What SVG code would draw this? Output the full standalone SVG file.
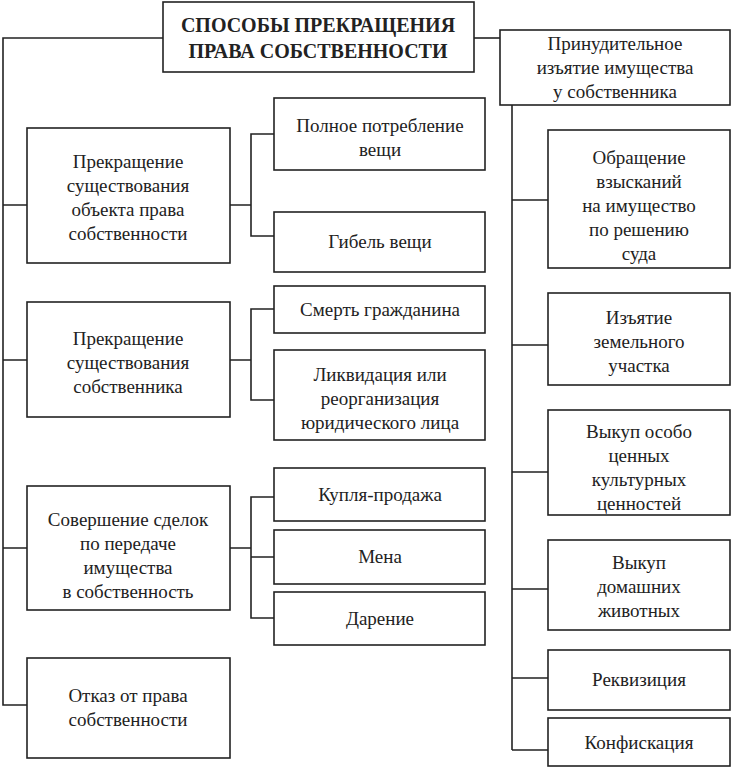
<svg xmlns="http://www.w3.org/2000/svg" width="732" height="770" viewBox="0 0 732 770">
<style>
rect{fill:#fff;stroke:#222;stroke-width:1.6}
text{font-family:'Liberation Serif','DejaVu Serif','Times New Roman',serif;font-size:19px;fill:#222;text-anchor:middle}
.t{font-weight:bold;font-size:20px}
#connectors path{fill:none;stroke:#222;stroke-width:1.6}
</style>
<rect width="732" height="770" style="fill:#fff;stroke:none"/>
<g id="connectors">
<path d="M163 38H3V705H27"/>
<path d="M3 205H27M3 360H27M3 548H27"/>
<path d="M474 38H500"/>
<path d="M512 105V750"/>
<path d="M512 200H548M512 345H548M512 472H548M512 589H548M512 678H548M512 750H548"/>
<path d="M230 205H251M274 134H251V236H274"/>
<path d="M230 360H251M274 309H251V400H274"/>
<path d="M230 548H251M274 497H251V618H274M251 557H274"/>
</g>
<g id="title"><rect x="163" y="2" width="311" height="70"/><text class="t" x="318" y="32">СПОСОБЫ ПРЕКРАЩЕНИЯ</text><text class="t" x="318" y="58">ПРАВА СОБСТВЕННОСТИ</text></g>
<g id="l1"><rect x="27" y="128" width="203" height="135"/><text x="128" y="168">Прекращение</text><text x="128" y="192">существования</text><text x="128" y="216">объекта права</text><text x="128" y="240">собственности</text></g>
<g id="l2"><rect x="27" y="302" width="203" height="115"/><text x="128" y="345">Прекращение</text><text x="128" y="369">существования</text><text x="128" y="393">собственника</text></g>
<g id="l3"><rect x="27" y="486" width="203" height="124"/><text x="128" y="526">Совершение сделок</text><text x="128" y="550">по передаче</text><text x="128" y="574">имущества</text><text x="128" y="598">в собственность</text></g>
<g id="l4"><rect x="27" y="658" width="203" height="100"/><text x="128" y="702">Отказ от права</text><text x="128" y="726">собственности</text></g>
<g id="m1"><rect x="274" y="98" width="211" height="72"/><text x="380" y="132">Полное потребление</text><text x="380" y="156">вещи</text></g>
<g id="m2"><rect x="274" y="212" width="211" height="60"/><text x="380" y="248">Гибель вещи</text></g>
<g id="m3"><rect x="274" y="286" width="211" height="47"/><text x="380" y="316">Смерть гражданина</text></g>
<g id="m4"><rect x="274" y="350" width="211" height="90"/><text x="380" y="381">Ликвидация или</text><text x="380" y="405">реорганизация</text><text x="380" y="429">юридического лица</text></g>
<g id="m5"><rect x="274" y="468" width="211" height="53"/><text x="380" y="501">Купля-продажа</text></g>
<g id="m6"><rect x="274" y="530" width="211" height="54"/><text x="380" y="563">Мена</text></g>
<g id="m7"><rect x="274" y="592" width="211" height="53"/><text x="380" y="625">Дарение</text></g>
<g id="r0"><rect x="500" y="30" width="230" height="75"/><text x="615" y="50">Принудительное</text><text x="615" y="74">изъятие имущества</text><text x="615" y="98">у собственника</text></g>
<g id="r1"><rect x="548" y="130" width="182" height="138"/><text x="639" y="164">Обращение</text><text x="639" y="188">взысканий</text><text x="639" y="212">на имущество</text><text x="639" y="236">по решению</text><text x="639" y="260">суда</text></g>
<g id="r2"><rect x="548" y="293" width="182" height="92"/><text x="639" y="324">Изъятие</text><text x="639" y="348">земельного</text><text x="639" y="372">участка</text></g>
<g id="r3"><rect x="548" y="410" width="182" height="105"/><text x="639" y="438">Выкуп особо</text><text x="639" y="462">ценных</text><text x="639" y="486">культурных</text><text x="639" y="510">ценностей</text></g>
<g id="r4"><rect x="548" y="540" width="182" height="90"/><text x="639" y="569">Выкуп</text><text x="639" y="593">домашних</text><text x="639" y="617">животных</text></g>
<g id="r5"><rect x="548" y="650" width="182" height="60"/><text x="639" y="686">Реквизиция</text></g>
<g id="r6"><rect x="548" y="718" width="182" height="48"/><text x="639" y="749">Конфискация</text></g>
</svg>
